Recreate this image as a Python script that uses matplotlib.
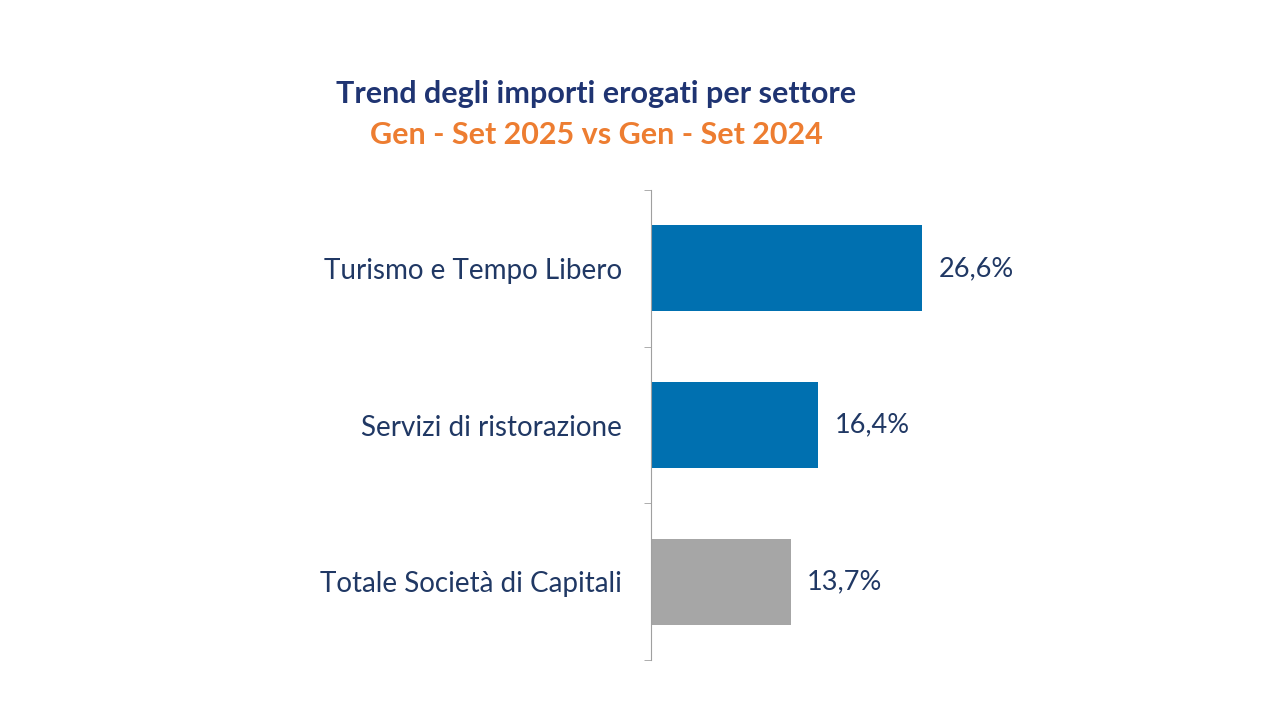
import matplotlib.pyplot as plt
import numpy as np

plt.rcParams['font.family'] = ['Lato', 'DejaVu Sans']

categories = ["Turismo e Tempo Libero", "Servizi di ristorazione", "Totale Società di Capitali"]
values = [26.6, 16.4, 13.7]
labels = ["26,6%", "16,4%", "13,7%"]
colors = ["#0070B0", "#0070B0", "#A6A6A6"]

navy = "#203864"

fig = plt.figure(figsize=(12.8, 7.2), dpi=100)
# axis spine at x=651px, from y=190 to y=660
ax = fig.add_axes([651 / 1280, 60 / 720, 306 / 1280, 470 / 720])

y = np.arange(len(categories))
ax.barh(y, values, height=0.55, color=colors)
ax.set_ylim(len(categories) - 0.5, -0.5)
ax.set_xlim(0, 30)

for yi, v, lab in zip(y, values, labels):
    ax.text(v + 1.6, yi, lab, va="center", ha="left", fontsize=19.5, color=navy)

ax.set_yticks(y)
ax.set_yticklabels(categories, fontsize=20, color=navy)
ax.tick_params(axis="y", which="major", length=0, pad=21)
ax.set_yticks(np.arange(-0.5, len(categories)), minor=True)
ax.tick_params(axis="y", which="minor", length=5, color="#A0A0A0", direction="out")
ax.set_xticks([])
for s in ["top", "right", "bottom"]:
    ax.spines[s].set_visible(False)
ax.spines["left"].set_color("#A0A0A0")

fig.text(0.466, 0.869, "Trend degli importi erogati per settore", ha="center",
         va="center", fontsize=22, fontweight="bold", color="#1F3472")
fig.text(0.466, 0.812, "Gen - Set 2025 vs Gen - Set 2024", ha="center",
         va="center", fontsize=22, fontweight="bold", color="#ED7D31")

fig.savefig("out.png", dpi=100, facecolor="white")
plt.close()
